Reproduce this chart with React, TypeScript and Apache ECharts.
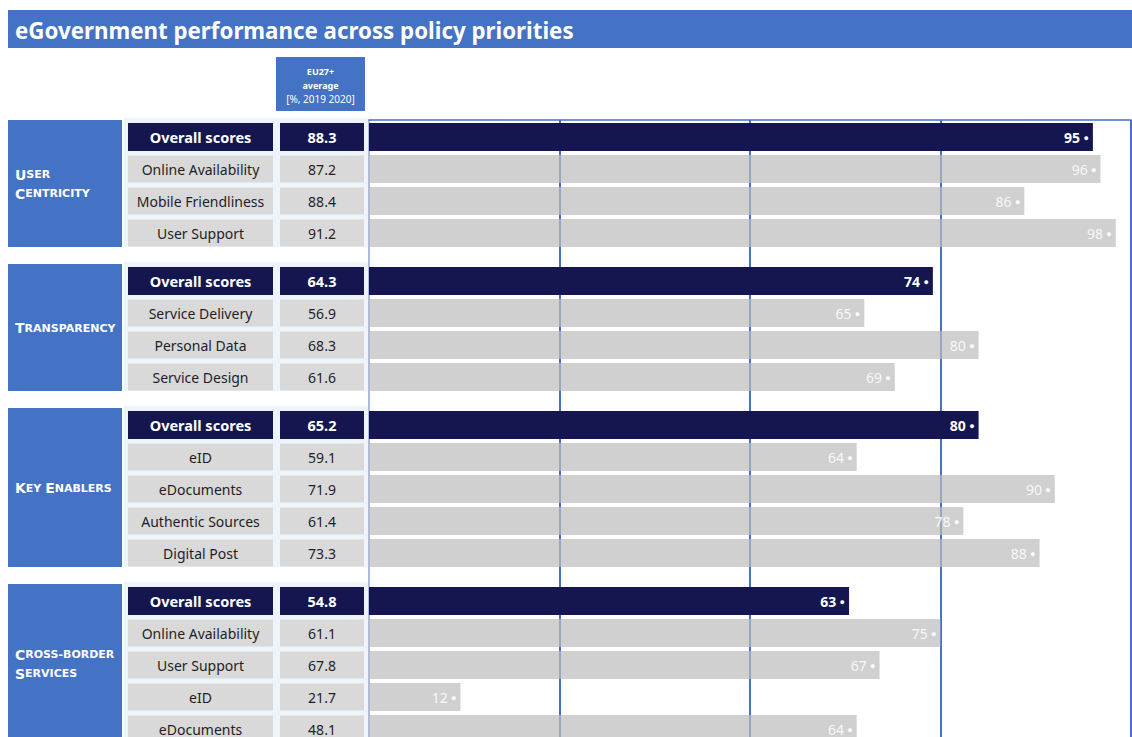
import React, { useEffect, useRef } from "react";
import * as echarts from "echarts";

const TITLE = "eGovernment performance across policy priorities";
const HEADER_LINES = ["EU27+", "average", "[%, 2019 2020]"];

const groupNames = ["User Centricity", "Transparency", "Key Enablers", "Cross-border Services"];
const groupLines = [["User", "Centricity"], ["Transparency"], ["Key Enablers"], ["Cross-border", "Services"]];

const cats1 = ["Overall scores", "Online Availability", "Mobile Friendliness", "User Support"];
const vals1 = [95, 96, 86, 98];
const avg1 = ["88.3", "87.2", "88.4", "91.2"];

const cats2 = ["Overall scores", "Service Delivery", "Personal Data", "Service Design"];
const vals2 = [74, 65, 80, 69];
const avg2 = ["64.3", "56.9", "68.3", "61.6"];

const cats3 = ["Overall scores", "eID", "eDocuments", "Authentic Sources", "Digital Post"];
const vals3 = [80, 64, 90, 78, 88];
const avg3 = ["65.2", "59.1", "71.9", "61.4", "73.3"];

const cats4 = ["Overall scores", "Online Availability", "User Support", "eID", "eDocuments"];
const vals4 = [63, 75, 67, 12, 64];
const avg4 = ["54.8", "61.1", "67.8", "21.7", "48.1"];

const xTicks = { min: 0, max: 100, interval: 25 };

const BLUE = "#4472C4";
const NAVY = "#151650";
const GRAY_BOX = "#D9D9D9";
const GRAY_BAR = "rgba(188,188,188,0.7)";
const PALE = "#EEF4FB";
const FONT = "'Noto Sans', sans-serif";
const CAPS_FONT = "'DejaVu Sans', sans-serif";

const ROW = 32;
const GAP = 16;
const TOP0 = 121;
const PLOT_LEFT = 369;
const PLOT_WIDTH = 762;

function smallCaps(line: string) {
  return line
    .split(" ")
    .map((w) => `{b|${w.charAt(0).toUpperCase()}}{s|${w.slice(1).toUpperCase()}}`)
    .join("{s| }");
}

export default function App() {
  const ref = useRef<HTMLDivElement>(null);
  useEffect(() => {
    if (!ref.current) return;
    const chart = echarts.init(ref.current, null, { renderer: "svg" });
    const groups = [
      { cats: cats1, vals: vals1, avg: avg1 },
      { cats: cats2, vals: vals2, avg: avg2 },
      { cats: cats3, vals: vals3, avg: avg3 },
      { cats: cats4, vals: vals4, avg: avg4 },
    ];
    const tops: number[] = [];
    let t = TOP0;
    groups.forEach((g) => {
      tops.push(t);
      t += g.cats.length * ROW + GAP;
    });

    const grids: any[] = [
      { left: PLOT_LEFT, top: TOP0 - 1, width: PLOT_WIDTH, height: 700, outerBoundsMode: "none" },
    ];
    const xAxes: any[] = [
      {
        gridIndex: 0,
        type: "value",
        ...xTicks,
        position: "top",
        axisLabel: { show: false },
        axisTick: { show: false },
        axisLine: { show: true, onZero: false, lineStyle: { color: BLUE, width: 1.5 } },
        splitLine: { show: true, showMinLine: false, lineStyle: { color: BLUE, width: 2 } },
      },
    ];
    const yAxes: any[] = [
      {
        gridIndex: 0,
        type: "value",
        min: 0,
        max: 1,
        position: "left",
        axisLabel: { show: false },
        axisTick: { show: false },
        splitLine: { show: false },
        axisLine: { show: true, onZero: false, lineStyle: { color: "#8FA6D4", width: 1.5 } },
      },
    ];
    const series: any[] = [];
    const graphics: any[] = [
      { type: "rect", shape: { x: 8, y: 10, width: 1124, height: 38 }, style: { fill: BLUE } },
      {
        type: "text",
        x: 15,
        y: 30,
        style: {
          text: TITLE,
          fill: "#fff",
          fontSize: 22.3,
          fontWeight: "bold",
          fontFamily: FONT,
          verticalAlign: "middle",
        },
      },
      { type: "rect", shape: { x: 276, y: 57, width: 89, height: 54 }, style: { fill: BLUE } },
      {
        type: "text",
        x: 320.5,
        y: 85,
        style: {
          text: `{b|${HEADER_LINES[0]}}\n{b|${HEADER_LINES[1]}}\n{n|${HEADER_LINES[2]}}`,
          align: "center",
          verticalAlign: "middle",
          rich: {
            b: { fill: "#fff", fontSize: 9, fontWeight: "bold", fontFamily: FONT, lineHeight: 13.5, align: "center" },
            n: { fill: "#fff", fontSize: 10, fontFamily: FONT, lineHeight: 13.5, align: "center" },
          },
        },
      },
    ];

    groups.forEach((g, i) => {
      const top = tops[i];
      const h = g.cats.length * ROW;
      grids.push({ left: PLOT_LEFT, top, width: PLOT_WIDTH, height: h, outerBoundsMode: "none" });
      xAxes.push({ gridIndex: i + 1, type: "value", ...xTicks, show: false });
      const boxRich = (w: number) => ({
        o: {
          width: w,
          height: 28,
          lineHeight: 28,
          backgroundColor: NAVY,
          color: "#fff",
          fontWeight: "bold",
          fontSize: 14.5,
          fontFamily: FONT,
          align: "center",
        },
        r: {
          width: w,
          height: 27,
          lineHeight: 27,
          backgroundColor: GRAY_BOX,
          color: "#1E1E28",
          fontSize: 14,
          fontFamily: FONT,
          align: "center",
        },
      });
      const catAxisBase = {
        gridIndex: i + 1,
        type: "category",
        data: g.cats,
        inverse: true,
        position: "left",
        axisLine: { show: false },
        axisTick: { show: false },
        splitLine: { show: false },
      };
      yAxes.push({
        ...catAxisBase,
        axisLabel: {
          interval: 0,
          margin: 96,
          formatter: (v: string, idx: number) => (idx === 0 ? `{o|${v}}` : `{r|${v}}`),
          rich: boxRich(145),
        },
      });
      yAxes.push({
        ...catAxisBase,
        axisLabel: {
          interval: 0,
          margin: 5,
          formatter: (_v: string, idx: number) => (idx === 0 ? `{o|${g.avg[idx]}}` : `{r|${g.avg[idx]}}`),
          rich: boxRich(84),
        },
      });
      series.push({
        type: "bar",
        name: groupNames[i],
        xAxisIndex: i + 1,
        yAxisIndex: 1 + 2 * i,
        barWidth: 28,
        data: g.vals.map((v, j) => ({
          value: v,
          itemStyle: { color: j === 0 ? NAVY : GRAY_BAR },
          label: {
            show: true,
            position: "insideRight",
            distance: 4,
            formatter: j === 0 ? "{b|{c}} {d|●}" : "{n|{c}} {d|●}",
            rich: {
              b: { color: "#fff", fontWeight: "bold", fontSize: 14, fontFamily: FONT },
              n: { color: "#F8F8F8", fontSize: 14, fontFamily: FONT },
              d: { color: "#fff", fontSize: 9, fontFamily: FONT },
            },
          },
        })),
      });
      graphics.push({
        type: "rect",
        z: -1,
        shape: { x: 124, y: top - 3, width: 244, height: h + 1 },
        style: { fill: PALE },
      });
      graphics.push({
        type: "rect",
        shape: { x: 8, y: top - 1, width: 114, height: h - 1 },
        style: { fill: BLUE },
      });
      graphics.push({
        type: "text",
        x: 15,
        y: top + h / 2 - 1,
        style: {
          text: groupLines[i].map(smallCaps).join("\n"),
          verticalAlign: "middle",
          rich: {
            b: { fill: "#fff", fontSize: 14, fontWeight: "bold", fontFamily: CAPS_FONT, lineHeight: 19 },
            s: { fill: "#fff", fontSize: 11, fontWeight: "bold", fontFamily: CAPS_FONT, lineHeight: 19 },
          },
        },
      });
    });

    chart.setOption({
      animation: false,
      backgroundColor: "#fff",
      grid: grids,
      xAxis: xAxes,
      yAxis: yAxes,
      series,
      graphic: graphics,
    });
    return () => chart.dispose();
  }, []);
  return (
    <div style={{ position: "absolute", left: 0, top: 0, width: 1132, height: 737, overflow: "hidden" }}>
      <div ref={ref} style={{ width: 1132, height: 760 }} />
    </div>
  );
}
